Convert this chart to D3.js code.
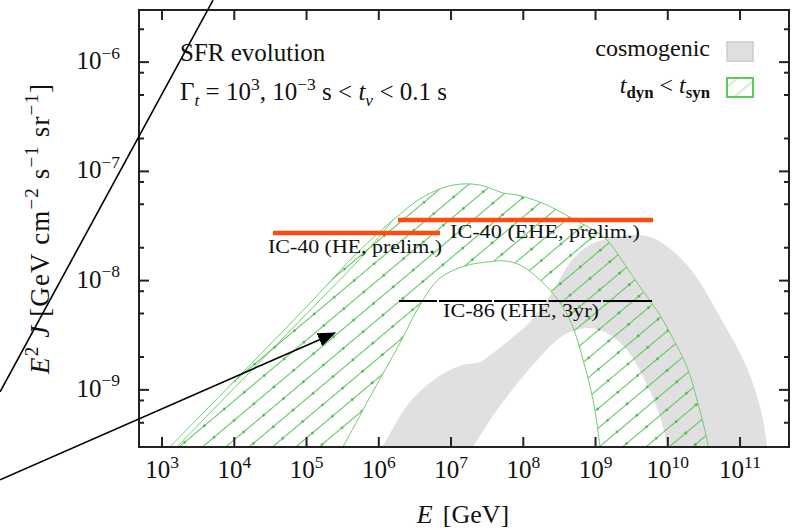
<!DOCTYPE html>
<html><head><meta charset="utf-8">
<script src="https://cdn.jsdelivr.net/npm/d3@7"></script>
<style>body{margin:0;background:#fff}svg{display:block}text{font-family:"Liberation Serif","Times New Roman",serif;fill:#111}</style>
</head><body><svg id="c" width="798" height="530"></svg>
<script>
// ---------- data (log10 E [GeV], log10 E^2 J) ----------
const xTickExps = [3,4,5,6,7,8,9,10,11];
const yTickExps = [-6,-7,-8,-9];
const yMinorMults = [2,5,8];

const greenOuter = [[2.80,-9.732],[3.111,-9.521],[5.090,-8.177],[5.644,-7.784],[6.197,-7.445],[6.612,-7.235],[7.028,-7.125],[7.401,-7.125],[7.720,-7.198],[7.913,-7.216],[8.232,-7.281],[8.467,-7.354],[8.689,-7.436],[8.924,-7.518],[9.159,-7.628],[9.381,-7.829],[9.616,-8.058],[9.865,-8.287],[10.059,-8.515],[10.266,-8.790],[10.405,-9.092],[10.543,-9.457],[10.612,-9.732]];
const greenInner = [[5.325,-9.732],[5.505,-9.521],[5.879,-9.064],[6.294,-8.570],[6.571,-8.223],[6.848,-7.976],[7.194,-7.866],[7.498,-7.829],[7.747,-7.820],[7.955,-7.857],[8.232,-7.994],[8.481,-8.177],[8.675,-8.406],[8.827,-8.726],[8.965,-9.092],[9.062,-9.521],[9.090,-9.732]];
const greenEdge2 = [[2.90,-9.732],[3.208,-9.521],[5.187,-8.177],[5.740,-7.800],[6.197,-7.445]];

const greyUpper = [[5.85,-9.732],[6.050,-9.521],[6.420,-9.119],[6.820,-8.881],[7.166,-8.771],[7.401,-8.744],[7.581,-8.662],[7.858,-8.515],[8.093,-8.378],[8.301,-8.204],[8.481,-8.012],[8.675,-7.811],[8.924,-7.674],[9.201,-7.610],[9.478,-7.582],[9.796,-7.610],[10.266,-7.857],[10.723,-8.332],[11.097,-8.799],[11.304,-9.229],[11.374,-9.521],[11.40,-9.732]];
const greyLower = [[7.097,-9.732],[7.304,-9.521],[7.637,-9.183],[7.955,-8.909],[8.232,-8.698],[8.467,-8.543],[8.647,-8.470],[8.924,-8.433],[9.159,-8.479],[9.436,-8.634],[9.713,-8.954],[9.893,-9.247],[9.990,-9.521],[10.03,-9.732]];

const ic40HE  = {range:[4.536,6.848], level:-7.565, label:"IC-40 (HE, prelim.)"};
const ic40EHE = {range:[6.266,9.796], level:-7.446, label:"IC-40 (EHE, prelim.)"};
const ic86Edges = [6.266,6.820,7.581,8.336,9.090,9.796];
const ic86Level = -8.187;
const ic86Label = "IC-86 (EHE, 3yr)";

const annotLine = [[3.706,-5.433],[0.758,-9.018]];
const annotArrow = [[0.758,-9.823],[5.394,-8.479]];

// ---------- setup ----------
const svg = d3.select("#c");
const M = {left:139,right:789,top:10,bottom:447};
const x = d3.scaleLog().domain([4.8e2,4.76e11]).range([M.left,M.right]);
const y = d3.scaleLog().domain([3e-10,3e-6]).range([M.bottom,M.top]);
const X = l => x(Math.pow(10,l)), Y = l => y(Math.pow(10,l));
const line = d3.line().x(d=>X(d[0])).y(d=>Y(d[1])).curve(d3.curveCatmullRom.alpha(0.5));
const straight = d3.line().x(d=>X(d[0])).y(d=>Y(d[1]));

const defs = svg.append("defs");
defs.append("clipPath").attr("id","clip").append("rect")
  .attr("x",M.left).attr("y",M.top).attr("width",M.right-M.left).attr("height",M.bottom-M.top);
const pat = defs.append("pattern").attr("id","hatch").attr("patternUnits","userSpaceOnUse")
  .attr("width",26).attr("height",15).attr("patternTransform","rotate(-40)");
pat.append("line").attr("x1",0).attr("x2",26).attr("y1",7.5).attr("y2",7.5)
  .attr("stroke","#5cc75c").attr("stroke-width",1.1);
pat.append("circle").attr("cx",13).attr("cy",7.5).attr("r",1.2).attr("fill","#34a834");
const pat2 = defs.append("pattern").attr("id","hatchL").attr("patternUnits","userSpaceOnUse")
  .attr("width",26).attr("height",12).attr("patternTransform","rotate(-40)");
pat2.append("line").attr("x1",0).attr("x2",26).attr("y1",6).attr("y2",6)
  .attr("stroke","#a6e0a6").attr("stroke-width",1);
defs.append("marker").attr("id","arrow").attr("markerUnits","userSpaceOnUse")
  .attr("viewBox","0 0 18 14").attr("refX",17).attr("refY",7)
  .attr("markerWidth",18).attr("markerHeight",14).attr("orient","auto")
  .append("path").attr("d","M0,0 L18,7 L0,14 Z").attr("fill","#000");

const g = svg.append("g").attr("clip-path","url(#clip)");

// grey cosmogenic band
const band = (up, low) => line(up) + "L" + line(low.slice().reverse()).slice(1) + "Z";
g.append("path").attr("d", band(greyUpper, greyLower)).attr("fill","#e0e0e0");

// green hatched band
g.append("path").attr("d", band(greenOuter, greenInner)).attr("fill","url(#hatch)");
[greenOuter, greenInner, greenEdge2].forEach(s=>{
  g.append("path").attr("d", line(s)).attr("fill","none").attr("stroke","#72cd72").attr("stroke-width",1);
});

// IceCube limits
const orange = "#ff4a12";
[ic40HE, ic40EHE].forEach(o=>{
  g.append("line").attr("x1",X(o.range[0])).attr("x2",X(o.range[1]))
    .attr("y1",Y(o.level)).attr("y2",Y(o.level)).attr("stroke",orange).attr("stroke-width",4.5);
});
for(let i=0;i<ic86Edges.length-1;i++){
  g.append("line").attr("x1",X(ic86Edges[i])+1).attr("x2",X(ic86Edges[i+1])-1)
    .attr("y1",Y(ic86Level)).attr("y2",Y(ic86Level)).attr("stroke","#000").attr("stroke-width",2);
}
const lab = (txt, xx, yy, len) => svg.append("text").attr("x",xx).attr("y",yy)
  .attr("font-size",19).attr("textLength",len).attr("lengthAdjust","spacingAndGlyphs").text(txt);
lab(ic40HE.label, X(ic40HE.range[0])-5, Y(ic40HE.level)+20, 174);
lab(ic40EHE.label, X(ic40EHE.range[0])+52, Y(ic40EHE.level)+18, 190);
lab(ic86Label, X(ic86Edges[1])+5, Y(ic86Level)+16, 156);

// rich text helper
function rich(sel, parts, base){
  let off = 0;
  parts.forEach(p=>{
    const ts = sel.append("tspan").text(p.t);
    let target = 0, fs = base;
    if(p.sup){ target = -0.42*base; fs = 0.7*base; }
    if(p.sub){ target = 0.22*base; fs = 0.7*base; }
    ts.attr("font-size", fs);
    if(target!==off){ ts.attr("dy", target-off); off = target; }
    if(p.it) ts.attr("font-style","italic");
    if(p.b) ts.attr("font-weight","bold");
    if(p.dx) ts.attr("dx", p.dx);
  });
  return sel;
}

// frame
svg.append("rect").attr("x",M.left).attr("y",M.top).attr("width",M.right-M.left).attr("height",M.bottom-M.top)
  .attr("fill","none").attr("stroke","#222").attr("stroke-width",2);

// ticks
const tk = svg.append("g").attr("stroke","#222").attr("stroke-width",2);
xTickExps.forEach(e=>{
  const xx = X(e);
  tk.append("line").attr("x1",xx).attr("x2",xx).attr("y1",M.bottom).attr("y2",M.bottom-10);
  tk.append("line").attr("x1",xx).attr("x2",xx).attr("y1",M.top).attr("y2",M.top+10);
  rich(svg.append("text").attr("x",xx).attr("y",478).attr("text-anchor","middle"),
    [{t:"10"},{t:String(e),sup:true}], 25);
});
yTickExps.forEach(e=>{
  const yy = Y(e);
  tk.append("line").attr("x1",M.left).attr("x2",M.left+10).attr("y1",yy).attr("y2",yy);
  tk.append("line").attr("x1",M.right).attr("x2",M.right-10).attr("y1",yy).attr("y2",yy);
  rich(svg.append("text").attr("x",120).attr("y",yy+7).attr("text-anchor","end"),
    [{t:"10"},{t:"\u2212"+Math.abs(e),sup:true}], 25);
});
const yMinor = [];
[-6,-7,-8,-9,-10].forEach(e=>yMinorMults.forEach(m=>yMinor.push(m*Math.pow(10,e))));
yMinor.filter(v=>v>=3e-10 && v<=3e-6).forEach(v=>{
  const yy = y(v);
  tk.append("line").attr("x1",M.left).attr("x2",M.left+5).attr("y1",yy).attr("y2",yy);
  tk.append("line").attr("x1",M.right).attr("x2",M.right-5).attr("y1",yy).attr("y2",yy);
});

// axis titles
rich(svg.append("text").attr("x",463).attr("y",523).attr("text-anchor","middle"),
  [{t:"E",it:true},{t:"[GeV]",dx:10}], 26);
rich(svg.append("text").attr("transform","translate(49,229) rotate(-90)").attr("text-anchor","middle")
  .attr("textLength",290).attr("lengthAdjust","spacing"),
  [{t:"E",it:true},{t:"2",sup:true},{t:" "},{t:"J",it:true},{t:" [GeV cm"},{t:"\u22122",sup:true},{t:" s"},{t:"\u22121",sup:true},{t:" sr"},{t:"\u22121",sup:true},{t:"]"}], 27);

// annotations in plot
svg.append("text").attr("x",180).attr("y",61).attr("font-size",25).text("SFR evolution");
rich(svg.append("text").attr("x",180).attr("y",100),
  [{t:"\u0393"},{t:"t",sub:true,it:true},{t:" = 10"},{t:"3",sup:true},{t:", 10"},{t:"\u22123",sup:true},{t:" s < "},{t:"t",it:true},{t:"v",sub:true,it:true},{t:" < 0.1 s"}], 25);

// legend
svg.append("text").attr("x",710).attr("y",56).attr("text-anchor","end").attr("font-size",24).text("cosmogenic");
svg.append("rect").attr("x",727).attr("y",42).attr("width",26).attr("height",19)
  .attr("fill","#e0e0e0").attr("stroke","#cacaca").attr("stroke-width",1.5);
rich(svg.append("text").attr("x",710).attr("y",93).attr("text-anchor","end"),
  [{t:"t",it:true},{t:"dyn",sub:true,b:true},{t:" < "},{t:"t",it:true},{t:"syn",sub:true,b:true}], 24);
svg.append("rect").attr("x",727).attr("y",78).attr("width",26).attr("height",19)
  .attr("fill","url(#hatchL)").attr("stroke","#5ccc5c").attr("stroke-width",2);

// overlay annotation lines
svg.append("path").attr("d",straight(annotLine)).attr("stroke","#000").attr("stroke-width",1.6).attr("fill","none");
svg.append("path").attr("d",straight(annotArrow)).attr("stroke","#000").attr("stroke-width",1.6).attr("fill","none")
  .attr("marker-end","url(#arrow)");
</script></body></html>
